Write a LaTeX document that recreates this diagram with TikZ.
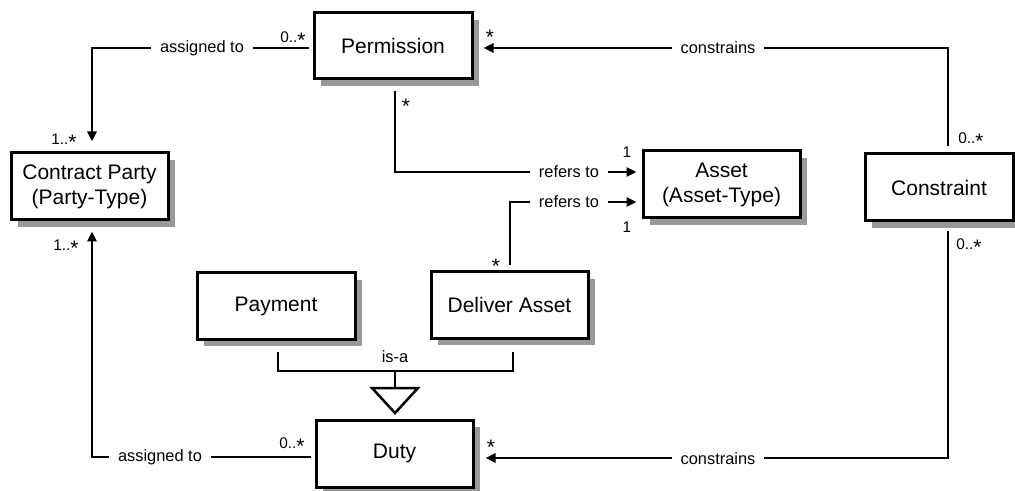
\documentclass[tikz,border=0pt]{standalone}
\usepackage{fontspec}
\setmainfont{Liberation Sans}
\usetikzlibrary{arrows.meta,shadows}
\newcommand{\mst}{\raisebox{-2.5pt}{\fontsize{10.5}{10.5}\selectfont *}}
\begin{document}
\begin{tikzpicture}[x=0.5pt,y=-0.5pt,
  box/.style={draw,line width=1.5pt,fill=white,inner sep=0pt,align=center,
    font=\fontsize{10.5}{12.5}\selectfont,
    drop shadow={shadow xshift=3.5pt,shadow yshift=-3.5pt,fill=black!40,opacity=1}},
  conn/.style={line width=1.25pt,-{Triangle[length=5pt,width=4.5pt]}},
  plain/.style={line width=1.25pt},
  lbl/.style={font=\fontsize{8.2}{9.8}\selectfont,fill=white,inner xsep=4.5pt,inner ysep=1pt},
  mult/.style={font=\fontsize{7.7}{9}\selectfont,anchor=base,inner sep=0pt}]
\useasboundingbox (0,0) rectangle (1015,491);
% boxes
\node[box,minimum width=79pt,minimum height=33pt] (perm) at (393,46) {Permission};
\node[box,minimum width=78.5pt,minimum height=33.5pt] (cp) at (89.5,186.5) {Contract Party\\(Party-Type)};
\node[box,minimum width=78.5pt,minimum height=33.5pt] (asset) at (721.5,184.5) {Asset\\(Asset-Type)};
\node[box,minimum width=74pt,minimum height=33.5pt] (cons) at (939,187.5) {Constraint};
\node[box,minimum width=79pt,minimum height=33pt] (pay) at (276,306) {Payment};
\node[box,minimum width=78.5pt,minimum height=33pt] (da) at (509.5,305) {Deliver Asset};
\node[box,minimum width=78.5pt,minimum height=33.5pt] (duty) at (394.5,453.5) {Duty};
% connectors
\draw[conn,shorten <=2pt,shorten >=5pt] ([yshift=-1pt]perm.west) -| ([xshift=1.25pt]cp.north);
\draw[conn,shorten <=5.5pt,shorten >=2.5pt] ([xshift=1pt]perm.south) |- ([yshift=6.25pt]asset.west);
\draw[conn,shorten <=2.5pt,shorten >=2.5pt] ([xshift=0.25pt]da.north) |- ([yshift=-8.75pt]asset.west);
\draw[conn,shorten <=3pt,shorten >=5pt] ([xshift=4.5pt]cons.north) |- ([yshift=-1pt]perm.east);
\draw[conn,shorten <=4.5pt,shorten >=5.5pt] ([xshift=4.5pt]cons.south) |- ([yshift=-2.25pt]duty.east);
\draw[conn,shorten <=2pt,shorten >=5pt] ([yshift=-1.75pt]duty.west) -| ([xshift=1.25pt]cp.south);
% generalization
\coordinate (j) at (395,371);
\coordinate (tt) at (395,388);
\draw[plain,shorten <=5.5pt,shorten >=6pt] ([xshift=1pt]pay.south) |- (j) -| ([xshift=1.75pt]da.south);
\draw[plain] (j) -- (tt);
\draw[plain,fill=white,line join=miter] ([xshift=-11.5pt]tt) -- ([xshift=11.5pt]tt) -- ([yshift=-12.5pt]tt) -- cycle;
% labels
\node[lbl] (l1) at (202,48) {assigned to};
\node[lbl] (l2) at (160,457) {assigned to};
\node[lbl] (l3) at (569,172) {refers to};
\node[lbl] (l4) at (569,202) {refers to};
\node[lbl] (l5) at (718,48) {constrains};
\node[lbl] (l6) at (718,459) {constrains};
\node[font=\fontsize{8.2}{9.8}\selectfont,inner sep=0pt] (l7) at (395,357) {is-a};
% multiplicities
\node[mult] (m1) at (293,42.5) {0..\mst};
\node[mult] (m2) at (64,144.5) {1..\mst};
\node[mult] (m3) at (490,40) {\mst};
\node[mult] (m4) at (406,109) {\mst};
\node[mult] (m5) at (627,157.5) {1};
\node[mult] (m6) at (627,232.5) {1};
\node[mult] (m7) at (496,269) {\mst};
\node[mult] (m8) at (971,143.5) {0..\mst};
\node[mult] (m9) at (969,249.5) {0..\mst};
\node[mult] (m10) at (491,449) {\mst};
\node[mult] (m11) at (292,448.5) {0..\mst};
\node[mult] (m12) at (66,250.5) {1..\mst};
\end{tikzpicture}
\end{document}
